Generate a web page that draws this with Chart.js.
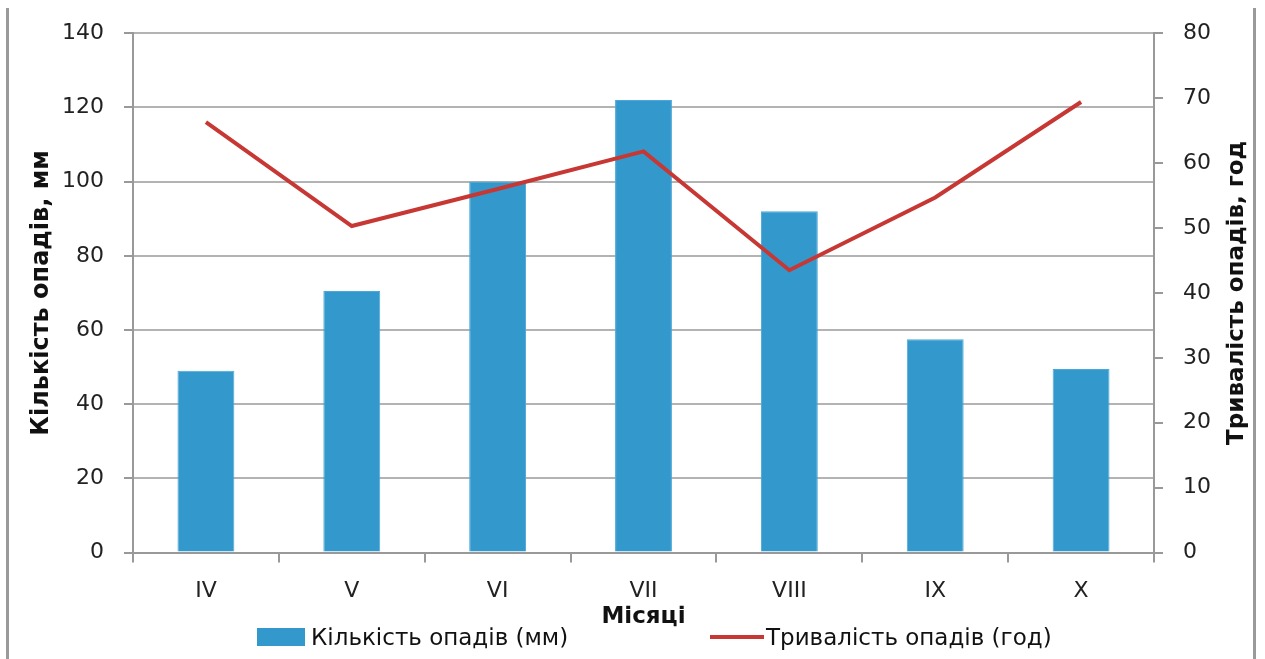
<!DOCTYPE html>
<html lang="uk">
<head>
<meta charset="utf-8">
<title>Кількість і тривалість опадів</title>
<script src="https://cdn.jsdelivr.net/npm/chart.js@4/dist/chart.umd.min.js"></script>
<style>
    body { margin: 0; background: #fff; }
    .wrap { position: relative; width: 1265px; height: 659px; overflow: hidden; }
    .frame { position: absolute; top: 8px; bottom: 0; width: 3px; background: #9a9a9a; }
    .legend-item {
        position: absolute; top: 624px; height: 26px;
        display: flex; align-items: center;
        font-family: "DejaVu Sans", sans-serif; font-size: 23px; color: #111;
    }
    .legend-item .swatch { margin-right: 6px; }
</style>
</head>
<body>
<div class="wrap">
    <canvas id="rainChart" width="1265" height="659"></canvas>
    <div class="frame" style="left:6px"></div>
    <div class="frame" style="left:1253px"></div>
    <div id="legend"></div>
</div>
<script>
// Data
const months = ['IV', 'V', 'VI', 'VII', 'VIII', 'IX', 'X'];
const rainAmount = [49, 70.5, 100, 122, 92, 57.5, 49.5];      // мм
const rainDuration = [66.3, 50.3, 56, 61.8, 43.5, 54.7, 69.4]; // год
const leftTicks = { min: 0, max: 140, step: 20 };
const rightTicks = { min: 0, max: 80, step: 10 };

const barColor = '#3399CC';
const lineColor = '#C73834';
const tickFont = { family: 'DejaVu Sans', size: 22 };
const titleFont = { family: 'DejaVu Sans', size: 23, weight: 'bold', lineHeight: 1 };
const leftTitle = 'Кількість опадів, мм';
const rightTitle = 'Тривалість опадів, год';

// Both vertical titles read bottom-to-top, drawn here
const axisTitlesPlugin = {
    id: 'axisTitles',
    afterDraw(chart) {
        const ctx = chart.ctx;
        const area = chart.chartArea;
        const midY = (area.top + area.bottom) / 2;
        [[42, leftTitle, 24], [1237, rightTitle, 23]].forEach(function(t) {
            ctx.save();
            ctx.translate(t[0], midY);
            ctx.rotate(-Math.PI / 2);
            ctx.font = 'bold ' + t[2] + 'px "DejaVu Sans"';
            ctx.fillStyle = '#111';
            ctx.textAlign = 'center';
            ctx.textBaseline = 'middle';
            ctx.fillText(t[1], 0, 0);
            ctx.restore();
        });
    }
};

const ctx = document.getElementById('rainChart').getContext('2d');
const rainChart = new Chart(ctx, {
    type: 'bar',
    data: {
        labels: months,
        datasets: [{
            type: 'line',
            label: 'Тривалість опадів (год)',
            data: rainDuration,
            yAxisID: 'y1',
            borderColor: lineColor,
            backgroundColor: lineColor,
            borderWidth: 4,
            pointRadius: 0,
            tension: 0,
            order: 0
        }, {
            type: 'bar',
            label: 'Кількість опадів (мм)',
            data: rainAmount,
            yAxisID: 'y',
            backgroundColor: barColor,
            borderColor: '#4AA8DA',
            borderWidth: 1,
            barPercentage: 0.39,
            categoryPercentage: 1,
            order: 1
        }]
    },
    options: {
        responsive: false,
        animation: false,
        layout: { padding: { left: 42, right: 34, top: 33, bottom: 30 } },
        plugins: {
            legend: { display: false },
            tooltip: { enabled: false }
        },
        scales: {
            x: {
                grid: {
                    offset: true,
                    drawOnChartArea: false,
                    tickLength: 10,
                    color: '#999',
                    lineWidth: 2
                },
                border: { color: '#999', width: 2 },
                ticks: { font: { family: 'DejaVu Sans', size: 22 }, color: '#222', padding: 15 },
                title: {
                    display: true,
                    text: 'Місяці',
                    font: titleFont,
                    color: '#111',
                    padding: { top: -13, bottom: 0 }
                }
            },
            y: {
                position: 'left',
                min: leftTicks.min,
                max: leftTicks.max,
                grid: { color: '#b3b3b3', lineWidth: 2, tickLength: 9, tickColor: '#999' },
                border: { color: '#999', width: 2 },
                ticks: { stepSize: leftTicks.step, font: tickFont, color: '#222', padding: 20 }
            },
            y1: {
                position: 'right',
                min: rightTicks.min,
                max: rightTicks.max,
                grid: { drawOnChartArea: false, tickLength: 9, color: '#999', lineWidth: 2 },
                border: { color: '#999', width: 2 },
                ticks: { stepSize: rightTicks.step, font: tickFont, color: '#222', padding: 20 }
            }
        }
    },
    plugins: [axisTitlesPlugin]
});

// Legend built from the chart's own datasets (bar first, like the original)
const legendBox = document.getElementById('legend');
const legendLeft = [257, 710];
[1, 0].forEach(function(idx, i) {
    const ds = rainChart.data.datasets[idx];
    const item = document.createElement('div');
    item.className = 'legend-item';
    item.style.left = legendLeft[i] + 'px';
    const sw = document.createElement('span');
    sw.className = 'swatch';
    if (ds.type === 'bar') {
        sw.style.cssText = 'display:inline-block;width:48px;height:18px;background:' + ds.backgroundColor;
    } else {
        sw.style.cssText = 'display:inline-block;width:54px;height:4px;margin-right:2px;background:' + ds.borderColor;
    }
    item.appendChild(sw);
    item.appendChild(document.createTextNode(ds.label));
    legendBox.appendChild(item);
});
</script>
</body>
</html>
